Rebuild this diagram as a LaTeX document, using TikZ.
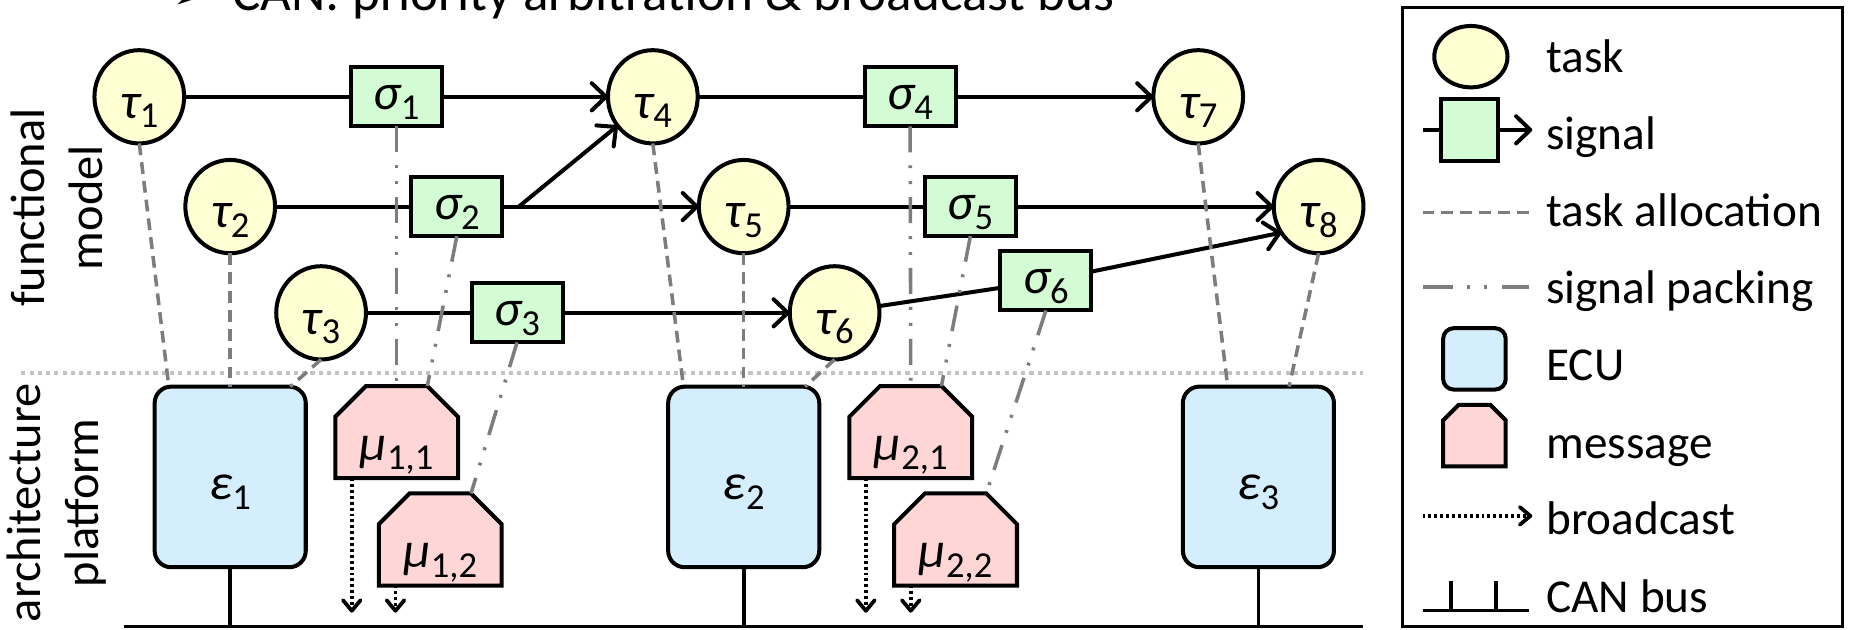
\documentclass[tikz,border=0pt]{standalone}
\usepackage{fontspec}
\setmainfont{Carlito}
\newfontfamily\dingfont{DejaVu Sans}
\usetikzlibrary{arrows.meta,shapes.geometric}

\definecolor{taskfill}{RGB}{255,255,212}
\definecolor{sigfill}{RGB}{212,252,212}
\definecolor{ecufill}{RGB}{213,238,253}
\definecolor{msgfill}{RGB}{255,214,214}
\definecolor{linkgray}{RGB}{125,125,125}
\definecolor{sepgray}{RGB}{195,195,195}

% symbol with an upright subscript
\newcommand\sym[2]{{\fontsize{43pt}{43pt}\selectfont\itshape #1}\raisebox{-8pt}{\fontsize{31pt}{31pt}\selectfont #2}}
% outline of a message box: rectangle with its two upper corners cut off
\newcommand\msgoutline[3]{%
  \draw[msgshape] ([yshift=-#3]#1.north west) -- ([xshift=#2]#1.north west)
    -- ([xshift=-#2]#1.north east) -- ([yshift=-#3]#1.north east)
    -- (#1.south east) -- (#1.south west) -- cycle;}

\begin{document}
\begin{tikzpicture}[x=1pt,y=-1pt,
  every node/.style={inner sep=0pt, outer sep=0pt},
  task/.style={ellipse, draw, line width=3.4pt, fill=taskfill,
    minimum width=76pt, minimum height=79pt, text height=36pt, text depth=0pt},
  sig/.style={rectangle, draw, line width=3.4pt, fill=sigfill,
    minimum width=77pt, minimum height=50pt, text height=22pt, text depth=0pt},
  ecu/.style={rectangle, rounded corners=14pt, draw, line width=3.4pt, fill=ecufill,
    minimum width=128pt, minimum height=153pt, text height=39pt, text depth=0pt},
  msgbox/.style={rectangle, minimum width=104pt, minimum height=78pt},
  msgshape/.style={draw, line width=3.4pt, fill=msgfill, line join=miter},
  msglbl/.style={anchor=base},
  flow/.style={line width=3.4pt},
  flowarrow/.style={flow, -{Straight Barb[length=12pt,width=23pt,round]}},
  alloc/.style={linkgray, line width=3pt, dash pattern=on 10pt off 6pt},
  packing/.style={linkgray, line width=3pt,
    dash pattern=on 22pt off 11pt on 2.5pt off 11pt on 2.5pt off 11pt},
  bcast/.style={line width=3.2pt, dash pattern=on 2.5pt off 2.5pt,
    -{Straight Barb[length=9pt,width=15pt,round]}},
  busline/.style={line width=2.4pt},
  stub/.style={line width=3.2pt},
  sepline/.style={sepgray, line width=3pt, dash pattern=on 3.5pt off 3.5pt},
  side/.style={rotate=90, align=center, font=\fontsize{41pt}{49pt}\selectfont},
  lgtext/.style={anchor=base west, font=\fontsize{40pt}{48pt}\selectfont}
]
\path[use as bounding box] (0,0) rectangle (1568,533);
\clip (0,0) rectangle (1568,533);

% heading line (partly above the page)
\node[anchor=base east, font=\dingfont\fontsize{40pt}{40pt}\selectfont] (bullet) at (180,8) {➢};
\node[anchor=base west, font=\fontsize{45pt}{54pt}\selectfont] (title) at (197,9)
  {CAN: priority arbitration \& broadcast bus};

% layer labels and separator
\node[side] (fmlabel) at (48,176) {functional\\model};
\node[side] (aplabel) at (48,426) {architecture\\platform};
\coordinate (sepL) at (18,316);
\coordinate (sepR) at (1155,316);
\draw[sepline] (sepL) -- (sepR);

% CAN bus
\coordinate (busL) at (105,531);
\coordinate (busR) at (1155,531);
\draw[busline] (busL) -- (busR);

% ECUs
\node[ecu] (e1) at (195,404) {\sym{ε}{1}};
\node[ecu] (e2) at (630,404) {\sym{ε}{2}};
\node[ecu] (e3) at (1066,404) {\sym{ε}{3}};
\foreach \e in {e1,e2,e3} \draw[stub] (\e.south) -- (\e.south |- busL);

% messages
\node[msgbox] (m11) at (336,366) {};
\node[msgbox] (m12) at (373,457) {};
\node[msgbox] (m21) at (771.5,366) {};
\node[msgbox] (m22) at (809.5,457) {};
\foreach \m in {m11,m12,m21,m22} {\msgoutline{\m}{26pt}{26pt}}
\node[msglbl] (m11l) at ([yshift=-24pt]m11.center) {\sym{μ}{1,1}};
\node[msglbl] (m12l) at ([yshift=-24pt]m12.center) {\sym{μ}{1,2}};
\node[msglbl] (m21l) at ([yshift=-24pt]m21.center) {\sym{μ}{2,1}};
\node[msglbl] (m22l) at ([yshift=-24pt]m22.center) {\sym{μ}{2,2}};

% broadcast of each message
\coordinate (blevel) at (0,519);
\foreach \m in {m11,m12,m21,m22}{
  \coordinate (\m b) at ([xshift=-38pt]\m.south);
  \coordinate (\m e) at (\m b |- blevel);
  \draw[bcast] (\m b) -- (\m e);
}

% tasks
\node[task] (t1) at (118,82) {\sym{τ}{1}};
\node[task] (t2) at (195,175) {\sym{τ}{2}};
\node[task] (t3) at (272,265) {\sym{τ}{3}};
\node[task] (t4) at (553,82) {\sym{τ}{4}};
\node[task] (t5) at (630,175) {\sym{τ}{5}};
\node[task] (t6) at (707,265) {\sym{τ}{6}};
\node[task] (t7) at (1015,82) {\sym{τ}{7}};
\node[task] (t8) at (1117,175) {\sym{τ}{8}};

% signals
\node[sig] (s1) at (336,82) {\sym{σ}{1}};
\node[sig] (s2) at (387,175) {\sym{σ}{2}};
\node[sig] (s3) at (438,265) {\sym{σ}{3}};
\node[sig] (s4) at (771,82) {\sym{σ}{4}};
\node[sig] (s5) at (822,175) {\sym{σ}{5}};
\node[sig] (s6) at (886,238) {\sym{σ}{6}};

% signal flow
\draw[flow] (t1) -- (s1);
\draw[flowarrow] (s1) -- (t4);
\draw[flow] (t2) -- (s2);
\draw[flowarrow] (s2) -- (t5);
\coordinate (s2fork) at ([xshift=14pt]s2.east);
\draw[flowarrow] (s2fork) -- (t4);
\draw[flow] (t3) -- (s3);
\draw[flowarrow] (s3) -- (t6);
\draw[flow] (t4) -- (s4);
\draw[flowarrow] (s4) -- (t7);
\draw[flow] (t5) -- (s5);
\draw[flowarrow] (s5) -- (t8);
\draw[flow] (t6) -- (s6);
\draw[flowarrow] (s6) -- (t8.215);

% task allocation
\draw[alloc] (t1.south) -- ([xshift=-52pt]e1.north);
\draw[alloc] (t2.south) -- (e1.north);
\draw[alloc] (t3.south) -- ([xshift=51pt]e1.north);
\draw[alloc] (t4.south) -- ([xshift=-51pt]e2.north);
\draw[alloc] (t5.south) -- (e2.north);
\draw[alloc] (t6.south) -- ([xshift=52pt]e2.north);
\draw[alloc] (t7.south) -- ([xshift=-26pt]e3.north);
\draw[alloc] (t8.south) -- ([xshift=26pt]e3.north);

% signal packing
\draw[packing] (s1.south) -- (m11.north);
\draw[packing] (s2.south) -- ([xshift=26pt]m11.north);
\draw[packing] (s3.south) -- ([xshift=26pt]m12.north);
\draw[packing] (s4.south) -- (m21.north);
\draw[packing] (s5.south) -- ([xshift=26pt]m21.north);
\draw[packing] (s6.south) -- ([xshift=26pt]m22.north);

% legend
\draw[line width=2.4pt] (1188,6) rectangle (1561,531);
\node[ellipse, draw, line width=3.4pt, fill=taskfill, minimum width=62pt, minimum height=52pt] (lgtask) at (1246,48) {};
\node[lgtext] (lgtaskt) at (1310,61) {task};
\node[rectangle, draw, line width=3.4pt, fill=sigfill, minimum width=48pt, minimum height=52pt] (lgsig) at (1245,110) {};
\coordinate (lgsigin) at (1205,110);
\coordinate (lgsigout) at (1298,110);
\draw[flow] (lgsigin) -- (lgsig);
\draw[flowarrow] (lgsig) -- (lgsigout);
\node[lgtext] (lgsigt) at (1310,127) {signal};
\coordinate (lgallocL) at (1205,180);
\coordinate (lgallocR) at (1295,180);
\draw[alloc] (lgallocL) -- (lgallocR);
\node[lgtext] (lgalloct) at (1310,192) {task allocation};
\coordinate (lgpackL) at (1205,243);
\coordinate (lgpackR) at (1295,243);
\draw[packing, dash pattern=on 26pt off 12pt on 2.5pt off 12pt on 2.5pt off 12pt] (lgpackL) -- (lgpackR);
\node[lgtext] (lgpackt) at (1310,257) {signal packing};
\node[rectangle, rounded corners=9pt, draw, line width=3.4pt, fill=ecufill, minimum width=53pt, minimum height=52pt] (lgecu) at (1249,304) {};
\node[lgtext] (lgecut) at (1310,322) {ECU};
\node[msgbox, minimum width=53pt, minimum height=52pt] (lgmsg) at (1249,369) {};
\msgoutline{lgmsg}{13pt}{13pt}
\node[lgtext] (lgmsgt) at (1310,388) {message};
\coordinate (lgbcL) at (1205,437);
\coordinate (lgbcR) at (1298,437);
\draw[bcast] (lgbcL) -- (lgbcR);
\node[lgtext] (lgbct) at (1310,453) {broadcast};
\coordinate (lgbusL) at (1205,517);
\coordinate (lgbusR) at (1295,517);
\coordinate (lgstubA) at (1229,492);
\coordinate (lgstubB) at (1267,492);
\draw[busline] (lgbusL) -- (lgbusR);
\draw[stub] (lgstubA) -- (lgstubA |- lgbusL);
\draw[stub] (lgstubB) -- (lgstubB |- lgbusL);
\node[lgtext] (lgbust) at (1310,519) {CAN bus};
\end{tikzpicture}
\end{document}
